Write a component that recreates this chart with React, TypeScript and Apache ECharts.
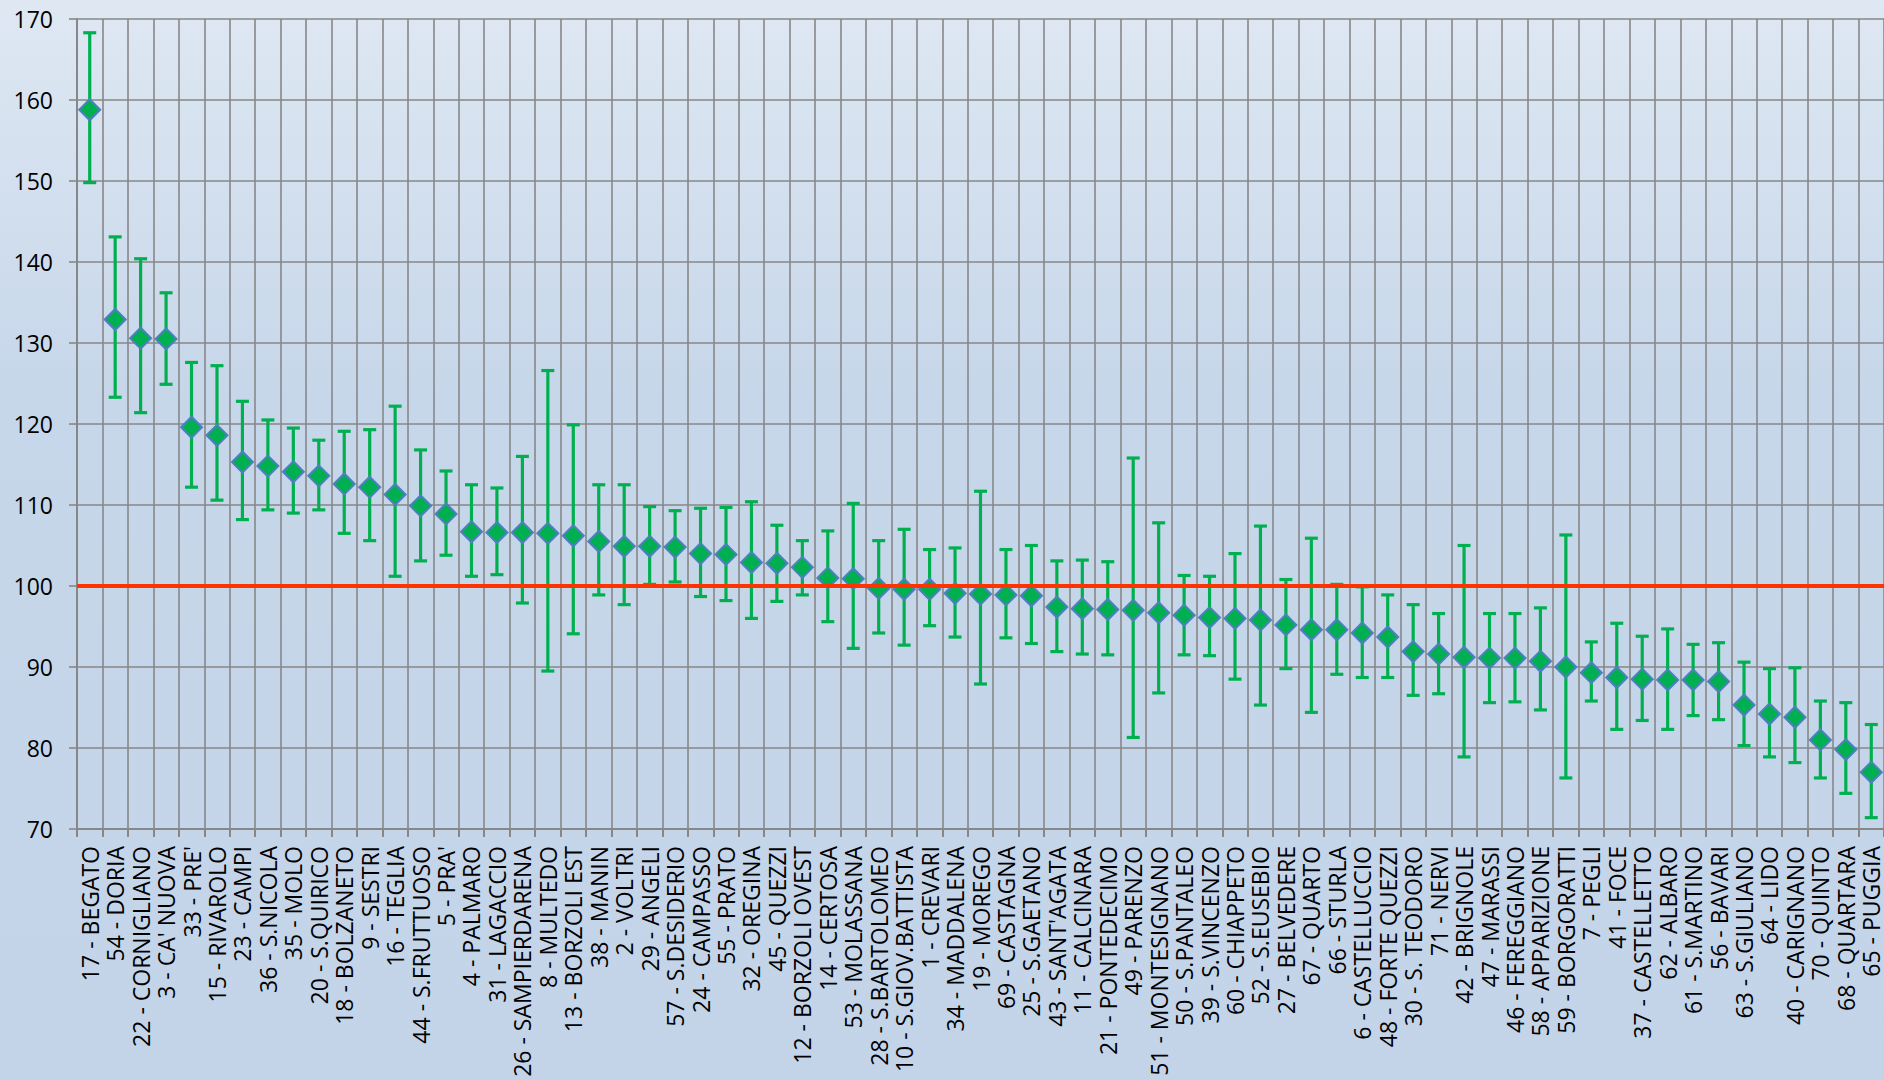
import React, { useEffect, useRef } from "react";
import * as echarts from "echarts";

const categories = [
  "17 - BEGATO", "54 - DORIA", "22 - CORNIGLIANO", "3 - CA' NUOVA", "33 - PRE'",
  "15 - RIVAROLO", "23 - CAMPI", "36 - S.NICOLA", "35 - MOLO", "20 - S.QUIRICO",
  "18 - BOLZANETO", "9 - SESTRI", "16 - TEGLIA", "44 - S.FRUTTUOSO", "5 - PRA'",
  "4 - PALMARO", "31 - LAGACCIO", "26 - SAMPIERDARENA", "8 - MULTEDO", "13 - BORZOLI EST",
  "38 - MANIN", "2 - VOLTRI", "29 - ANGELI", "57 - S.DESIDERIO", "24 - CAMPASSO",
  "55 - PRATO", "32 - OREGINA", "45 - QUEZZI", "12 - BORZOLI OVEST", "14 - CERTOSA",
  "53 - MOLASSANA", "28 - S.BARTOLOMEO", "10 - S.GIOV.BATTISTA", "1 - CREVARI", "34 - MADDALENA",
  "19 - MOREGO", "69 - CASTAGNA", "25 - S.GAETANO", "43 - SANT'AGATA", "11 - CALCINARA",
  "21 - PONTEDECIMO", "49 - PARENZO", "51 - MONTESIGNANO", "50 - S.PANTALEO", "39 - S.VINCENZO",
  "60 - CHIAPPETO", "52 - S.EUSEBIO", "27 - BELVEDERE", "67 - QUARTO", "66 - STURLA",
  "6 - CASTELLUCCIO", "48 - FORTE QUEZZI", "30 - S. TEODORO", "71 - NERVI", "42 - BRIGNOLE",
  "47 - MARASSI", "46 - FEREGGIANO", "58 - APPARIZIONE", "59 - BORGORATTI", "7 - PEGLI",
  "41 - FOCE", "37 - CASTELLETTO", "62 - ALBARO", "61 - S.MARTINO", "56 - BAVARI",
  "63 - S.GIULIANO", "64 - LIDO", "40 - CARIGNANO", "70 - QUINTO", "68 - QUARTARA",
  "65 - PUGGIA",
];

const means = [
  158.8, 132.9, 130.6, 130.5, 119.6, 118.6, 115.3, 114.8, 114.1, 113.6,
  112.6, 112.2, 111.3, 109.9, 108.9, 106.7, 106.6, 106.6, 106.5, 106.2,
  105.5, 104.9, 104.9, 104.8, 104.0, 103.9, 102.9, 102.8, 102.3, 101.0,
  100.9, 99.7, 99.6, 99.6, 99.1, 99.0, 98.9, 98.8, 97.4, 97.2,
  97.1, 97.0, 96.7, 96.4, 96.1, 96.0, 95.8, 95.2, 94.6, 94.6,
  94.2, 93.7, 91.9, 91.6, 91.2, 91.1, 91.1, 90.7, 90.0, 89.3,
  88.7, 88.5, 88.4, 88.4, 88.2, 85.3, 84.2, 83.8, 81.0, 79.8,
  77.0,
];

const lows = [
  149.8, 123.3, 121.4, 124.9, 112.2, 110.6, 108.2, 109.4, 109.0, 109.4,
  106.5, 105.6, 101.2, 103.1, 103.8, 101.2, 101.4, 97.9, 89.5, 94.1,
  98.9, 97.7, 100.2, 100.5, 98.7, 98.2, 96.0, 98.1, 98.9, 95.6,
  92.3, 94.2, 92.7, 95.1, 93.7, 87.9, 93.6, 92.9, 91.9, 91.6,
  91.5, 81.3, 86.8, 91.5, 91.4, 88.5, 85.3, 89.8, 84.4, 89.1,
  88.7, 88.7, 86.5, 86.7, 78.9, 85.6, 85.7, 84.7, 76.3, 85.8,
  82.3, 83.4, 82.3, 84.0, 83.5, 80.3, 78.9, 78.2, 76.3, 74.4,
  71.4,
];

const highs = [
  168.3, 143.1, 140.4, 136.2, 127.6, 127.2, 122.8, 120.5, 119.5, 118.0,
  119.1, 119.3, 122.2, 116.8, 114.2, 112.5, 112.1, 116.0, 126.6, 119.9,
  112.5, 112.5, 109.8, 109.3, 109.6, 109.7, 110.4, 107.5, 105.6, 106.8,
  110.2, 105.6, 107.0, 104.5, 104.7, 111.7, 104.5, 105.0, 103.1, 103.2,
  103.0, 115.8, 107.8, 101.3, 101.2, 104.0, 107.4, 100.8, 105.9, 100.2,
  99.9, 98.9, 97.7, 96.6, 105.0, 96.6, 96.6, 97.3, 106.3, 93.1,
  95.4, 93.8, 94.7, 92.8, 93.0, 90.6, 89.8, 89.9, 85.8, 85.6,
  82.9,
];

const REFERENCE = 100;
const Y_MIN = 70;
const Y_MAX = 170;
const Y_STEP = 10;

const GREEN = "#00b050";
const GRID_GRAY = "#878787";
const FONT = "'Open Sans', 'Noto Sans', sans-serif";

export default function App() {
  const ref = useRef<HTMLDivElement>(null);

  useEffect(() => {
    if (!ref.current) return;
    const chart = echarts.init(ref.current, null, { renderer: "svg" });

    const errData = categories.map((_, i) => [i, lows[i], highs[i]]);

    chart.setOption({
      animation: false,
      backgroundColor: new echarts.graphic.LinearGradient(0, 0, 0, 1, [
        { offset: 0, color: "#dfe8f3" },
        { offset: 0.35, color: "#c7d7ea" },
        { offset: 1, color: "#c3d4e9" },
      ]),
      grid: { left: 77, top: 19, width: 1807, height: 810, containLabel: false },
      xAxis: {
        type: "category",
        data: categories,
        boundaryGap: true,
        axisLine: { show: true, lineStyle: { color: GRID_GRAY, width: 2 } },
        axisTick: { show: true, interval: 0, length: 8, lineStyle: { color: GRID_GRAY, width: 2 } },
        splitLine: { show: true, interval: 0, lineStyle: { color: GRID_GRAY, width: 1.6 } },
        axisLabel: {
          interval: 0,
          rotate: 90,
          margin: 17,
          color: "#000",
          fontFamily: FONT,
          fontSize: 23,
        },
      },
      yAxis: {
        type: "value",
        min: Y_MIN,
        max: Y_MAX,
        interval: Y_STEP,
        axisLine: { show: true, lineStyle: { color: GRID_GRAY, width: 2 } },
        axisTick: { show: true, length: 8, lineStyle: { color: GRID_GRAY, width: 1.6 } },
        splitLine: { show: true, lineStyle: { color: GRID_GRAY, width: 1.6 } },
        axisLabel: {
          margin: 24,
          color: "#000",
          fontFamily: FONT,
          fontSize: 23,
        },
      },
      series: [
        {
          type: "custom",
          name: "range",
          z: 3,
          encode: { x: 0, y: [1, 2] },
          data: errData,
          renderItem: (params: any, api: any) => {
            const x = api.value(0);
            const lo = api.coord([x, api.value(1)]);
            const hi = api.coord([x, api.value(2)]);
            const half = 6.5;
            const style = { stroke: GREEN, lineWidth: 3.2 };
            return {
              type: "group",
              children: [
                { type: "line", shape: { x1: hi[0], y1: hi[1], x2: lo[0], y2: lo[1] }, style },
                { type: "line", shape: { x1: hi[0] - half, y1: hi[1], x2: hi[0] + half, y2: hi[1] }, style },
                { type: "line", shape: { x1: lo[0] - half, y1: lo[1], x2: lo[0] + half, y2: lo[1] }, style },
              ],
            };
          },
        },
        {
          type: "scatter",
          name: "mean",
          z: 4,
          data: means,
          symbol: "diamond",
          symbolSize: 21,
          itemStyle: { color: GREEN, borderColor: "#4f7fc0", borderWidth: 2, opacity: 1 },
        },
        {
          type: "line",
          name: "ref",
          z: 10,
          data: [],
          markLine: {
            silent: true,
            symbol: "none",
            z: 10,
            label: { show: false },
            lineStyle: { color: "#ff3300", width: 4, type: "solid" },
            data: [{ yAxis: REFERENCE }],
          },
        },
      ],
    });

    return () => {
      chart.dispose();
    };
  }, []);

  return (
    <div
      ref={ref}
      style={{ position: "absolute", left: 0, top: 0, width: 1884, height: 1080 }}
    />
  );
}
